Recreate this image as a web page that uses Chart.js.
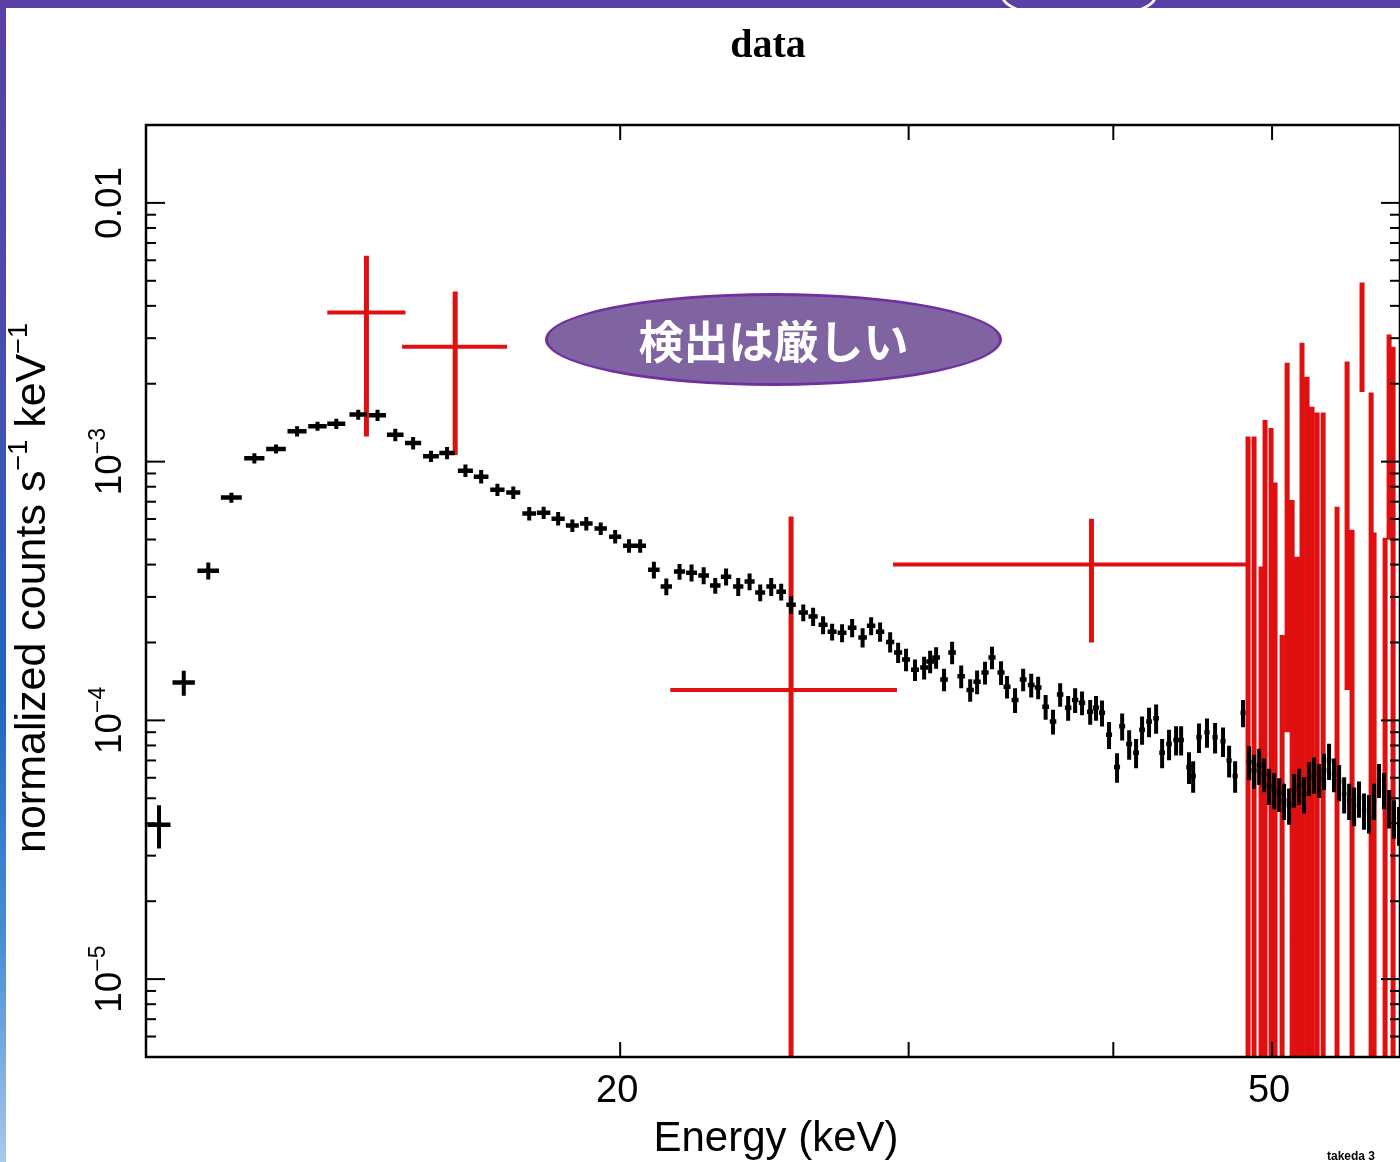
<!DOCTYPE html>
<html lang="ja">
<head>
  <meta charset="UTF-8">
  <title>data</title>
  <script src="https://cdn.jsdelivr.net/npm/chart.js"></script>
  <style>
    html, body { margin: 0; padding: 0; background: #fff; }
    .slide { position: relative; width: 1400px; height: 1162px; overflow: hidden; }
    #spectrum { position: absolute; left: 0; top: 0; }
    .topbar { position: absolute; left: 0; top: 0; width: 1400px; height: 8px; background: #5a40a6; overflow: hidden; }
    .topbar .arc { position: absolute; left: 1001px; top: -28px; width: 150px; height: 42px; border: 3px solid #fff; border-radius: 50%; }
    .leftbar { position: absolute; left: 0; top: 0; width: 6px; height: 1162px;
      background: linear-gradient(#5a40a6, #4a4cb0 30%, #1f66c2 60%, #4d8fd6 82%, #a9c9ea); }
    .callout { position: absolute; left: 545px; top: 293px; width: 451px; height: 87px;
      border: 3.5px solid #7030a0; border-radius: 50%; background: #8064a2; color: #fff;
      font: bold 45px "Noto Sans CJK JP", sans-serif; display: flex; align-items: center; justify-content: center; }
  </style>
</head>
<body>
  <div class="slide">
    <canvas id="spectrum" width="1400" height="1162"></canvas>
    <div class="topbar"><div class="arc"></div></div>
    <div class="leftbar"></div>
    <div class="callout">検出は厳しい</div>
  </div>

  <script>
    // axis ranges
    const X_MIN = 10.27, X_MAX = 59.85;
    const Y_MIN = 5e-6, Y_MAX = 0.02;

    // black spectrum: bin centre energy (keV), normalized counts, fractional error
    const blackE = [
      10.46, 10.83, 11.21, 11.58, 11.96, 12.33, 12.70, 13.07, 13.42, 13.84,
      14.22, 14.58, 14.95, 15.33, 15.68, 16.09, 16.45, 16.83, 17.21, 17.60,
      17.96, 18.33, 18.70, 19.07, 19.46, 19.86, 20.25, 20.57, 20.97, 21.34,
      21.74, 22.11, 22.49, 22.86, 23.21, 23.61, 23.99, 24.35, 24.73, 25.08,
      25.43, 25.87, 26.23, 26.60, 26.94, 27.32, 27.71, 28.12, 28.46, 28.82,
      29.23, 29.56, 29.89, 30.27, 30.66, 30.92, 31.18, 31.53, 31.89, 32.30,
      32.71, 33.03, 33.40, 33.73, 34.16, 34.45, 34.84, 35.24, 35.64, 35.99,
      36.37, 36.75, 37.12, 37.54, 37.91, 38.28, 38.72, 39.04, 39.37, 39.76,
      40.21, 40.50, 40.90, 41.30, 41.65, 42.06, 42.48, 42.84, 43.26, 43.69,
      44.00, 44.49, 44.75, 45.12, 45.63, 46.15, 46.67, 47.07, 47.47, 48.00,
      48.41, 48.75, 49.10, 49.44, 49.79, 50.14, 50.50, 50.85, 51.21, 51.57,
      51.94, 52.30, 52.67, 53.04, 53.42, 53.79, 54.17, 54.55, 54.94, 55.33,
      55.72, 56.11, 56.50, 56.90, 57.30, 57.71, 58.11, 58.52, 58.94, 59.35, 59.77
    ];
    const blackY = [
      3.95e-5, 1.40e-4, 3.79e-4, 7.26e-4, 1.03e-3, 1.12e-3, 1.31e-3, 1.37e-3, 1.40e-3, 1.52e-3,
      1.51e-3, 1.27e-3, 1.18e-3, 1.05e-3, 1.08e-3, 9.23e-4, 8.75e-4, 7.79e-4, 7.59e-4, 6.30e-4,
      6.35e-4, 6.02e-4, 5.66e-4, 5.76e-4, 5.51e-4, 5.13e-4, 4.73e-4, 4.73e-4, 3.82e-4, 3.29e-4,
      3.76e-4, 3.72e-4, 3.63e-4, 3.32e-4, 3.59e-4, 3.29e-4, 3.44e-4, 3.12e-4, 3.29e-4, 3.14e-4,
      2.80e-4, 2.61e-4, 2.52e-4, 2.34e-4, 2.20e-4, 2.18e-4, 2.28e-4, 2.09e-4, 2.32e-4, 2.20e-4,
      2.01e-4, 1.83e-4, 1.72e-4, 1.57e-4, 1.60e-4, 1.69e-4, 1.75e-4, 1.44e-4, 1.83e-4, 1.48e-4,
      1.31e-4, 1.41e-4, 1.53e-4, 1.75e-4, 1.53e-4, 1.35e-4, 1.20e-4, 1.44e-4, 1.37e-4, 1.34e-4,
      1.13e-4, 9.9e-5, 1.26e-4, 1.12e-4, 1.20e-4, 1.17e-4, 1.08e-4, 1.12e-4, 1.07e-4, 8.8e-5,
      6.6e-5, 9.5e-5, 8.1e-5, 7.5e-5, 9.2e-5, 9.9e-5, 1.02e-4, 7.5e-5, 8.1e-5, 8.4e-5,
      8.4e-5, 6.6e-5, 6.1e-5, 8.6e-5, 9.0e-5, 8.6e-5, 8.3e-5, 7.0e-5, 6.1e-5, 1.07e-4,
      6.9e-5, 6.4e-5, 6.7e-5, 6.2e-5, 5.6e-5, 5.4e-5, 5.2e-5, 4.9e-5, 4.7e-5, 5.4e-5,
      5.6e-5, 5.2e-5, 6.0e-5, 6.2e-5, 5.9e-5, 6.4e-5, 7.0e-5, 6.2e-5, 5.8e-5, 5.2e-5,
      4.9e-5, 4.7e-5, 5.0e-5, 4.5e-5, 4.4e-5, 4.9e-5, 5.9e-5, 5.4e-5, 4.6e-5, 4.2e-5, 3.95e-5
    ];
    const blackRelErr = [
      0.19, 0.11, 0.075, 0.045, 0.045, 0.04, 0.045, 0.04, 0.045, 0.045,
      0.05, 0.055, 0.055, 0.05, 0.055, 0.055, 0.06, 0.055, 0.055, 0.06,
      0.055, 0.06, 0.055, 0.06, 0.055, 0.06, 0.06, 0.06, 0.075, 0.075,
      0.07, 0.075, 0.075, 0.07, 0.075, 0.08, 0.075, 0.075, 0.08, 0.075,
      0.08, 0.075, 0.08, 0.08, 0.075, 0.08, 0.08, 0.085, 0.08, 0.085,
      0.09, 0.09, 0.1, 0.095, 0.1, 0.1, 0.095, 0.1, 0.1, 0.1,
      0.1, 0.105, 0.1, 0.1, 0.105, 0.1, 0.11, 0.1, 0.105, 0.1,
      0.11, 0.11, 0.105, 0.11, 0.11, 0.105, 0.11, 0.11, 0.115, 0.12,
      0.13, 0.12, 0.13, 0.13, 0.125, 0.13, 0.13, 0.13, 0.135, 0.13,
      0.13, 0.14, 0.14, 0.13, 0.13, 0.135, 0.13, 0.14, 0.14, 0.12,
      0.15, 0.15, 0.16, 0.15, 0.16, 0.16, 0.15, 0.16, 0.16, 0.15,
      0.16, 0.16, 0.15, 0.16, 0.15, 0.16, 0.16, 0.15, 0.16, 0.16,
      0.16, 0.17, 0.16, 0.16, 0.17, 0.16, 0.15, 0.16, 0.17, 0.17, 0.17
    ];
    const blackHalfWidth = 0.17;

    // red spectrum: energy, bin edges, value, error top / bottom (0 = below the plot)
    const redE = [14.00, 15.86, 25.43, 38.79, 48.34, 48.75, 49.23, 49.51, 49.93, 50.21, 50.71, 51.07, 51.43, 51.79,
                  52.15, 52.52, 52.89, 53.27, 53.72, 54.78, 55.56, 55.95, 56.74, 57.47, 57.71, 58.61, 58.94, 59.27];
    const redELo = [13.25, 14.72, 21.46, 29.35, 48.24, 48.65, 49.13, 49.41, 49.83, 50.11, 50.61, 50.97, 51.33, 51.69,
                    52.05, 52.42, 52.79, 53.17, 53.62, 54.68, 55.46, 55.85, 56.64, 57.37, 57.61, 58.51, 58.84, 59.17];
    const redEHi = [14.79, 17.06, 29.51, 48.27, 48.44, 48.85, 49.33, 49.61, 50.03, 50.31, 50.81, 51.17, 51.53, 51.89,
                    52.25, 52.62, 52.99, 53.37, 53.82, 54.88, 55.66, 56.05, 56.84, 57.57, 57.81, 58.71, 59.04, 59.37];
    const redY = [3.77e-3, 2.78e-3, 1.31e-4, 4.0e-4, 1.76e-4, 6.9e-5, 8.1e-5, 6.7e-5, 1.20e-4, 3.8e-5, 2.2e-5, 1.23e-3, 1.4e-5, 7.0e-5,
                  1.62e-3, 5.97e-4, 2.93e-4, 1.20e-4, 4.49e-4, 4.9e-5, 1.26e-3, 4.1e-5, 3.36e-3, 8.75e-4, 3.2e-5, 7.0e-5, 1.86e-3, 8.5e-4];
    const redTop = [6.25e-3, 4.54e-3, 6.13e-4, 6.02e-4, 1.25e-3, 1.25e-3, 3.93e-4, 1.45e-3, 1.35e-3, 8.3e-4, 2.14e-4, 2.41e-3, 7.1e-4, 4.29e-4,
                    2.88e-3, 2.13e-3, 1.63e-3, 1.55e-3, 1.55e-3, 6.70e-4, 2.44e-3, 5.46e-4, 4.92e-3, 1.85e-3, 5.32e-4, 5.08e-4, 3.10e-3, 2.78e-3];
    const redBottom = [1.25e-3, 1.06e-3, 0, 2.0e-4, 0, 0, 0, 0, 0, 0, 0, 9.0e-5, 0, 0,
                       0, 0, 0, 0, 0, 0, 1.31e-4, 0, 1.86e-3, 0, 0, 0, 4.99e-4, 0];

    // axis ticks and labels
    const xTickMarks = [20, 30, 40, 50, 60];
    const xTickLabels = [20, 50];
    const yTickLabels = [[0.01, '0.01', ''], [1e-3, '10', '−3'], [1e-4, '10', '−4'], [1e-5, '10', '−5']];

    const FONT = '"Liberation Sans", Arial, sans-serif';

    // error bars as broken line segments (null = pen up)
    function hSegments(xs, lo, hi, ys) {
      const pts = [];
      xs.forEach((x, i) => pts.push({x: lo[i], y: ys[i]}, {x: hi[i], y: ys[i]}, {x: x, y: null}));
      return pts;
    }
    function vSegments(xs, lo, hi) {
      const pts = [];
      xs.forEach((x, i) => pts.push({x: x, y: lo[i]}, {x: x, y: hi[i]}, {x: x, y: null}));
      return pts;
    }

    const blackLo = blackY.map((v, i) => v * (1 - blackRelErr[i]));
    const blackHi = blackY.map((v, i) => v * (1 + blackRelErr[i]));
    const blackXLo = blackE.map(e => e - blackHalfWidth);
    const blackXHi = blackE.map(e => e + blackHalfWidth);
    const redLo = redBottom.map(v => v > 0 ? v : Y_MIN / 2);

    function seg(data, color, width) {
      return { data, borderColor: color, borderWidth: width, pointRadius: 0, showLine: true,
               spanGaps: false, tension: 0, borderCapStyle: 'butt', fill: false };
    }

    function drawRich(ctx, parts, size, cx, base) {
      const big = size + 'px ' + FONT, small = Math.round(size * 0.62) + 'px ' + FONT;
      let total = 0;
      parts.forEach(([t, sup]) => { ctx.font = sup ? small : big; total += ctx.measureText(t).width; });
      let x = cx - total / 2;
      ctx.textAlign = 'left';
      ctx.textBaseline = 'alphabetic';
      parts.forEach(([t, sup]) => {
        ctx.font = sup ? small : big;
        ctx.fillText(t, x, sup ? base - size * 0.42 : base);
        x += ctx.measureText(t).width;
      });
    }

    const xspecFrame = {
      id: 'xspecFrame',
      afterDatasetsDraw(chart) {
        const {ctx, chartArea: a, scales: {x, y}} = chart;
        const line = (x1, y1, x2, y2) => { ctx.beginPath(); ctx.moveTo(x1, y1); ctx.lineTo(x2, y2); ctx.stroke(); };
        ctx.save();
        ctx.strokeStyle = '#000';
        ctx.lineWidth = 2.5;
        ctx.strokeRect(a.left, a.top, a.right - a.left, a.bottom - a.top);
        ctx.lineWidth = 2;
        for (let e = -6; e <= -2; e++) {
          for (let m = 1; m <= 9; m++) {
            const v = m * Math.pow(10, e);
            if (v < Y_MIN * 0.999 || v > Y_MAX * 1.001) continue;
            const py = y.getPixelForValue(v);
            const len = m === 1 ? 19 : 10;
            line(a.left, py, a.left + len, py);
            line(a.right, py, a.right - len, py);
          }
        }
        xTickMarks.forEach(v => {
          const px = x.getPixelForValue(v);
          line(px, a.bottom, px, a.bottom - 15);
          line(px, a.top, px, a.top + 15);
        });
        ctx.restore();
      },
      afterDraw(chart) {
        const {ctx, chartArea: a, scales: {x, y}} = chart;
        ctx.save();
        ctx.fillStyle = '#000';

        // title
        ctx.font = 'bold 40px "Liberation Serif", "Times New Roman", serif';
        ctx.textAlign = 'center';
        ctx.textBaseline = 'alphabetic';
        ctx.fillText('data', 768, 57);

        // x tick labels and title
        xTickLabels.forEach(v => {
          ctx.font = '38px ' + FONT;
          ctx.textAlign = 'center';
          ctx.fillText(String(v), x.getPixelForValue(v) - 3, a.bottom + 45);
        });
        drawRich(ctx, [['Energy (keV)', false]], 42, 776, 1151);

        // y tick labels, rotated
        yTickLabels.forEach(([v, base, exp]) => {
          ctx.save();
          ctx.translate(121, y.getPixelForValue(v));
          ctx.rotate(-Math.PI / 2);
          drawRich(ctx, exp ? [[base, false], [exp, true]] : [[base, false]], 37, 0, 0);
          ctx.restore();
        });

        // y title
        ctx.save();
        ctx.translate(45, (a.top + a.bottom) / 2 - 3);
        ctx.rotate(-Math.PI / 2);
        drawRich(ctx, [['normalized counts s', false], ['−1', true], [' keV', false], ['−1', true]], 43, 0, 0);
        ctx.restore();

        // plot stamp, bottom right
        ctx.font = 'bold 12px ' + FONT;
        ctx.textAlign = 'left';
        ctx.fillText('takeda 3', 1327, 1160);
        ctx.restore();
      }
    };

    new Chart(document.getElementById('spectrum').getContext('2d'), {
      type: 'line',
      data: {
        datasets: [
          seg(hSegments(blackE, blackXLo, blackXHi, blackY), '#000000', 4.5),
          seg(vSegments(blackE, blackLo, blackHi), '#000000', 4),
          seg(hSegments(redE, redELo, redEHi, redY), '#e01010', 4),
          seg(vSegments(redE, redLo, redTop), '#e01010', 5)
        ]
      },
      options: {
        responsive: false,
        animation: false,
        devicePixelRatio: 1,
        events: [],
        layout: { padding: { left: 146, top: 125, right: 0, bottom: 105 } },
        scales: {
          x: { type: 'logarithmic', min: X_MIN, max: X_MAX, display: false },
          y: { type: 'logarithmic', min: Y_MIN, max: Y_MAX, display: false }
        },
        plugins: {
          legend: { display: false },
          tooltip: { enabled: false }
        }
      },
      plugins: [xspecFrame]
    });
  </script>
</body>
</html>
